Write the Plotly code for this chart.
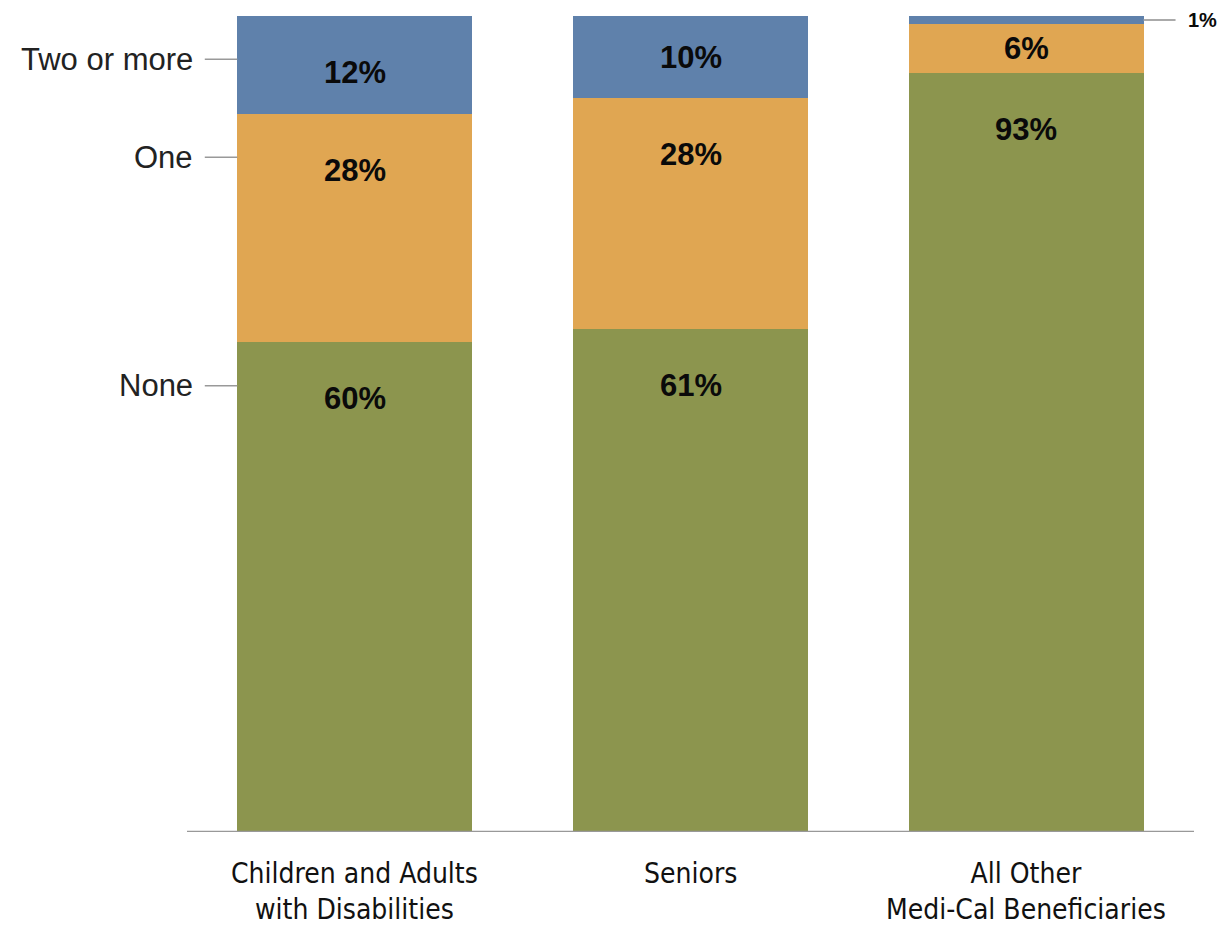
import plotly.graph_objects as go

# Share of beneficiaries by number of conditions
categories = ["Children and Adults<br>with Disabilities", "Seniors", "All Other<br>Medi-Cal Beneficiaries"]
levels = ["None", "One", "Two or more"]
none_pct = [60, 61, 93]
one_pct = [28, 28, 6]
two_plus_pct = [12, 10, 1]

colors = {"None": "#8C954E", "One": "#E0A652", "Two or more": "#5F81AB"}
series = {"None": none_pct, "One": one_pct, "Two or more": two_plus_pct}

LABEL_FONT = dict(family="Liberation Sans, Arial, sans-serif", size=31, color="#0A0A0A")
TICK_FONT = dict(family="Liberation Sans, Arial, sans-serif", size=31, color="#222222")
CAT_FONT = dict(family="Liberation Sans Narrow, DejaVu Sans Condensed, Arial Narrow, sans-serif",
                size=28, color="#111111")

fig = go.Figure()
for lvl in levels:
    fig.add_trace(go.Bar(
        x=list(range(len(categories))), y=series[lvl], name=lvl,
        marker=dict(color=colors[lvl], line=dict(width=0)),
        hoverinfo="skip",
    ))

# normalized stack positions (each bar fills 100%)
annotations = []
shapes = []
label_drop = 6.9  # data units below a segment top where its label sits
for i in range(len(categories)):
    total = sum(series[l][i] for l in levels)
    base = 0.0
    for lvl in levels:
        v = series[lvl][i]
        h = v / total * 100
        top = base + h
        txt = f"<b>{v}%</b>"
        if h >= 12:
            annotations.append(dict(x=i, y=top - label_drop, xref="x", yref="y", text=txt,
                                    showarrow=False, font=LABEL_FONT, yanchor="middle"))
        elif h >= 4:
            annotations.append(dict(x=i, y=base + h / 2, xref="x", yref="y", text=txt,
                                    showarrow=False, font=LABEL_FONT, yanchor="middle"))
        else:
            mid = base + h / 2
            shapes.append(dict(type="line", xref="x", yref="y", x0=i + 0.35, x1=i + 0.445,
                               y0=mid, y1=mid, line=dict(color="#AAAAAA", width=2)))
            annotations.append(dict(x=i + 0.445, y=mid, xref="x", yref="y", text=txt,
                                    showarrow=False, xanchor="left", yanchor="middle", xshift=10,
                                    font=dict(family=LABEL_FONT["family"], size=20, color="#0A0A0A")))
        base = top

# category names under the bars
for i, cat in enumerate(categories):
    annotations.append(dict(x=i, y=0, xref="x", yref="paper", text=cat, showarrow=False,
                            xanchor="center", yanchor="top", yshift=-23, font=CAT_FONT))

# level labels on the left, aligned with the first bar's segments
total0 = sum(series[l][0] for l in levels)
base = 0.0
for lvl in levels:
    top = base + series[lvl][0] / total0 * 100
    ypos = top - 5.3
    annotations.append(dict(x=0.0075, y=ypos, xref="paper", yref="y", text=lvl, showarrow=False,
                            xanchor="right", yanchor="middle", font=TICK_FONT))
    shapes.append(dict(type="line", xref="x", yref="y", x0=-0.447, x1=-0.35, y0=ypos, y1=ypos,
                       line=dict(color="#999999", width=1.5)))
    base = top

# baseline
shapes.append(dict(type="line", xref="paper", yref="y", x0=0, x1=1, y0=0, y1=0,
                   line=dict(color="#999999", width=2.5)))

fig.update_layout(
    barmode="stack", barnorm="percent", bargap=0.3,
    width=1218, height=926,
    margin=dict(l=187, r=24, t=16, b=94, autoexpand=False),
    paper_bgcolor="white", plot_bgcolor="white",
    showlegend=False,
    annotations=annotations, shapes=shapes,
    xaxis=dict(range=[-0.5, 2.5], showticklabels=False, showgrid=False, zeroline=False,
               showline=False, ticks="", automargin=False),
    yaxis=dict(range=[0, 100], showticklabels=False, showgrid=False, zeroline=False,
               showline=False, ticks="", automargin=False),
)

fig.write_html("out.html")
